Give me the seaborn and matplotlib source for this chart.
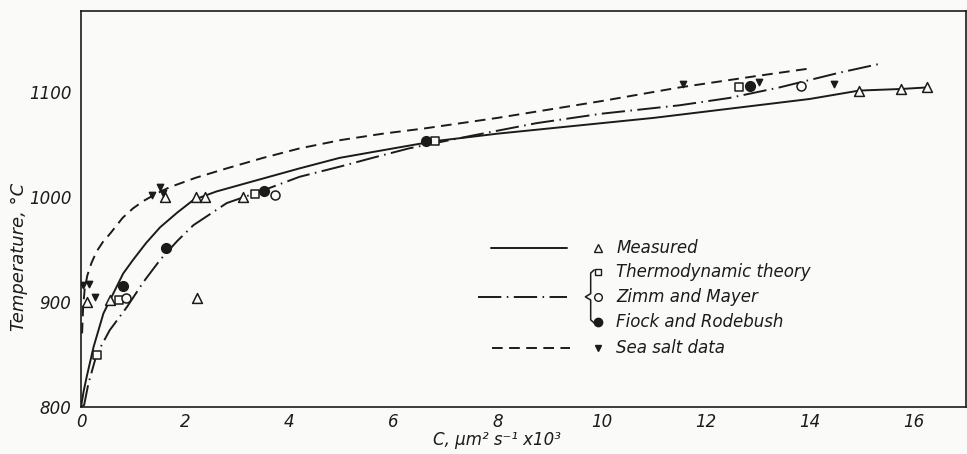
import numpy as np
import pandas as pd
import matplotlib
matplotlib.use("Agg")
import matplotlib.pyplot as plt
import seaborn as sns

# ---------------- data ----------------
# Measured curve (solid)
meas_curve_x = [0, 0.05, 0.11, 0.24, 0.43, 0.62, 0.81, 1.0, 1.25, 1.52, 1.85, 2.16, 2.6,
                3.18, 4.2, 4.97, 6.0, 6.81, 7.5, 8.0, 9.0, 10.0, 11.0, 12.0, 13.0, 14.0,
                14.95, 15.75, 16.26]
meas_curve_y = [800, 815, 829, 857, 889, 908, 927, 940, 956, 971, 985, 997, 1005,
                1013, 1027, 1037, 1046, 1053, 1057, 1060, 1065, 1070, 1075, 1081, 1087, 1093,
                1101, 1102.5, 1104]
# Zimm and Mayer theory curve (dash-dot)
zimm_curve_x = [0.01, 0.06, 0.14, 0.30, 0.55, 0.88, 1.2, 1.52, 1.85, 2.16, 2.8, 3.44,
                4.2, 5.0, 5.6, 6.3, 7.0, 7.5, 8.75, 10.0, 11.5, 12.46, 13.42, 14.57, 15.4]
zimm_curve_y = [800, 802, 822, 850, 873, 895, 919, 940, 958, 973, 994, 1005,
                1019, 1029, 1037, 1046, 1053, 1058, 1070, 1079, 1087, 1094, 1104, 1118, 1127]
# Sea salt curve (dashed)
salt_curve_x = [0.02, 0.04, 0.07, 0.12, 0.2, 0.3, 0.42, 0.56, 0.8, 1.0, 1.2, 1.45, 1.7,
                2.2, 2.8, 3.5, 4.2, 5.0, 5.8, 6.6, 8.0, 9.0, 10.0, 11.5, 13.0, 14.0]
salt_curve_y = [870, 895, 912, 925, 937, 948, 957, 965, 980, 989, 996, 1003, 1009,
                1018, 1027, 1037, 1046, 1054, 1060, 1065, 1075, 1083, 1091, 1104, 1115, 1122]

# Points
measured_x = [0.12, 0.56, 2.22, 1.62, 2.20, 2.39, 3.12, 14.95, 15.75, 16.26]
measured_y = [900, 902, 904, 1000, 1000, 1000, 1000, 1101, 1102.5, 1104]
thermo_x = [0.30, 0.72, 3.34, 6.81, 12.65]
thermo_y = [849, 902, 1003, 1053, 1104.5]
zimm_x = [0.86, 3.72, 13.83]
zimm_y = [904, 1002, 1105]
fiock_x = [0.80, 1.63, 3.51, 6.62, 12.86]
fiock_y = [915, 951, 1005, 1053, 1105]
salt_x = [0.03, 0.16, 0.27, 1.37, 1.52, 1.57, 11.56, 13.02, 14.47]
salt_y = [916, 917, 905, 1002, 1009, 1004, 1107, 1109.5, 1107]

x_ticks = [0, 2, 4, 6, 8, 10, 12, 14, 16]
y_ticks = [800, 900, 1000, 1100]

legend_labels = ["Measured", "Thermodynamic theory", "Zimm and Mayer",
                 "Fiock and Rodebush", "Sea salt data"]

# ---------------- styling ----------------
sns.set_theme(style="white")
plt.rcParams["font.family"] = ["DejaVu Sans"]
plt.rcParams["font.style"] = "italic"
INK = "#1b1b1b"
PAPER = "#fafaf8"

fig = plt.figure(figsize=(9.67, 4.54), dpi=100, facecolor=PAPER)
ax = fig.add_axes([0.0838, 0.1035, 0.915, 0.873])
ax.set_facecolor(PAPER)

DASHED = (0, (5.5, 3.3))
DASHDOT = (0, (12, 2.8, 0.8, 2.8))

def draw_curve(xs, ys, ls):
    df = pd.DataFrame({"x": xs, "y": ys})
    sns.lineplot(data=df, x="x", y="y", ax=ax, color=INK, linewidth=1.4,
                 estimator=None, sort=False)
    ax.lines[-1].set_linestyle(ls)

draw_curve(meas_curve_x, meas_curve_y, "-")
draw_curve(zimm_curve_x, zimm_curve_y, DASHDOT)
draw_curve(salt_curve_x, salt_curve_y, DASHED)

def draw_points(xs, ys, marker, face, size):
    df = pd.DataFrame({"x": xs, "y": ys})
    sns.scatterplot(data=df, x="x", y="y", ax=ax, marker=marker, s=size,
                    facecolor=face, edgecolor=INK, linewidth=1.1, zorder=5)

draw_points(measured_x, measured_y, "^", PAPER, 50)
draw_points(thermo_x, thermo_y, "s", PAPER, 38)
draw_points(zimm_x, zimm_y, "o", PAPER, 42)
draw_points(fiock_x, fiock_y, "o", INK, 48)
draw_points(salt_x, salt_y, "v", INK, 20)

ax.set_xlim(0, 17)
ax.set_ylim(800, 1177)
ax.set_xticks(x_ticks)
ax.set_yticks(y_ticks)
ax.set_xticklabels([str(t) for t in x_ticks])
ax.set_yticklabels([str(t) for t in y_ticks])
ax.tick_params(axis="both", direction="in", length=8, width=1.0, color=INK,
               labelsize=12, labelcolor=INK)
ax.tick_params(axis="y", pad=7)
ax.tick_params(axis="x", pad=4)
for s in ax.spines.values():
    s.set_color(INK)
    s.set_linewidth(1.2)

ax.set_xlabel("C, μm² s⁻¹ x10³", fontsize=12, color=INK)
ax.set_ylabel("Temperature, °C", fontsize=13, color=INK)
ax.xaxis.set_label_coords(0.47, -0.06)
ax.yaxis.set_label_coords(-0.060, 0.38)

# ---------------- custom legend (axes fraction) ----------------
T = ax.transAxes
mx, tx = 0.584, 0.605
rows = [0.400, 0.341, 0.278, 0.215, 0.148]
ax.plot([0.463, 0.549], [rows[0]] * 2, transform=T, color=INK, lw=1.4)
ax.plot([0.449, 0.549], [rows[2]] * 2, transform=T, color=INK, lw=1.4, ls=DASHDOT)
ax.plot([0.464, 0.553], [rows[4]] * 2, transform=T, color=INK, lw=1.4, ls=DASHED)
leg_markers = [("^", PAPER, 6), ("s", PAPER, 5), ("o", PAPER, 5.5), ("o", INK, 6), ("v", INK, 4.5)]
for (m, fc, ms), yy, lab in zip(leg_markers, rows, legend_labels):
    ax.plot([mx], [yy], transform=T, marker=m, ms=ms, mfc=fc, mec=INK, mew=1.0,
            ls="none", clip_on=False)
    ax.text(tx, yy, lab, transform=T, fontsize=12, color=INK, va="center", ha="left")
# brace
bx = [0.580, 0.576, 0.576, 0.570, 0.576, 0.576, 0.580]
by = [0.346, 0.338, 0.286, 0.278, 0.270, 0.220, 0.212]
ax.plot(bx, by, transform=T, color=INK, lw=1.1)

fig.savefig("out.png", dpi=100, facecolor=PAPER)
